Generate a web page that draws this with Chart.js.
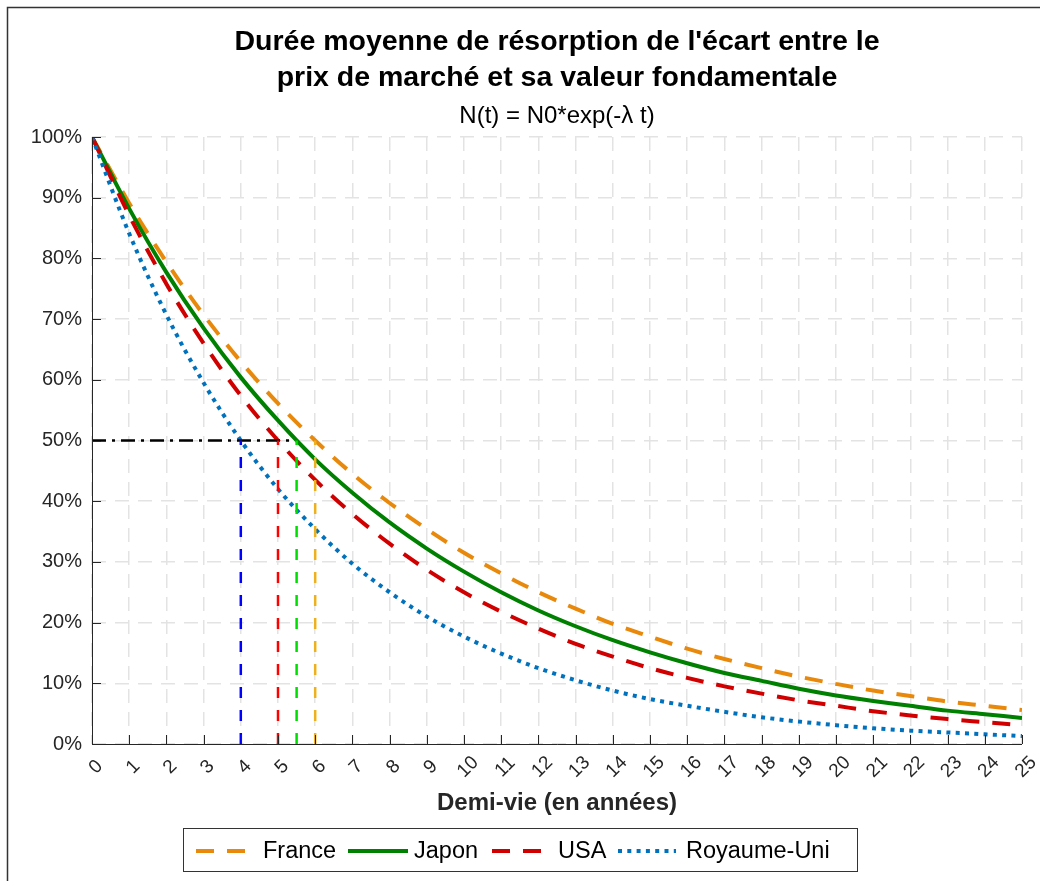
<!DOCTYPE html>
<html>
<head>
<meta charset="utf-8">
<script src="https://cdn.jsdelivr.net/npm/chart.js@4.4.1/dist/chart.umd.min.js"></script>
<style>
  html, body { margin: 0; padding: 0; background: #fff; }
  canvas { display: block; }
</style>
</head>
<body>
<canvas id="decay" width="1040" height="881"></canvas>
<script>
// years on the x axis
const years = [0,1,2,3,4,5,6,7,8,9,10,11,12,13,14,15,16,17,18,19,20,21,22,23,24,25];
// share of the gap left, in %
const france = [100,89.1,79.4,70.7,63.0,56.1,50.0,44.5,39.7,35.4,31.5,28.1,25.0,22.3,19.8,17.7,15.7,14.0,12.5,11.1,9.9,8.8,7.9,7.0,6.3,5.6];
const japon  = [100,88.2,77.7,68.5,60.4,53.3,46.9,41.4,36.5,32.2,28.4,25.0,22.0,19.4,17.1,15.1,13.3,11.7,10.4,9.1,8.0,7.1,6.3,5.5,4.9,4.3];
const usa    = [100,87.1,75.8,66.0,57.4,50.0,43.5,37.9,33.0,28.7,25.0,21.8,19.0,16.5,14.4,12.5,10.9,9.5,8.3,7.2,6.3,5.4,4.7,4.1,3.6,3.1];
const uk     = [100,84.1,70.7,59.5,50.0,42.0,35.4,29.7,25.0,21.0,17.7,14.9,12.5,10.5,8.8,7.4,6.3,5.3,4.4,3.7,3.1,2.6,2.2,1.9,1.6,1.3];
// half-life markers (years) : UK, USA, Japon, France
const halfLives = [4.0, 5.0, 5.5, 6.0];
const halfColors = ['#0000ff', '#ff0000', '#00dd00', '#edb120'];
const halfLevel = 50;

const xTicks = years;
const yTicks = [0,10,20,30,40,50,60,70,80,90,100];

const titleLines = ["Durée moyenne de résorption de l'écart entre le", "prix de marché et sa valeur fondamentale"];
const subtitle = "N(t) = N0*exp(-\u03BB t)";
const xTitle = "Demi-vie (en années)";

const FONT = '"Liberation Sans", Arial, Helvetica, sans-serif';
const AXIS = '#262626';

function pts(vals) { return years.map((x, i) => ({ x: x, y: vals[i] })); }

const series = [
  { label: 'France', data: pts(france), borderColor: '#e8890c', borderDash: [18, 13] },
  { label: 'Japon', data: pts(japon), borderColor: '#008000', borderDash: [] },
  { label: 'USA', data: pts(usa), borderColor: '#d00000', borderDash: [18, 13] },
  { label: 'Royaume-Uni', data: pts(uk), borderColor: '#0072bd', borderDash: [4, 5.3] }
];

const datasets = [];
// helper lines first so that they sit on top
halfLives.forEach((h, i) => {
  datasets.push({
    label: 'hl' + i,
    data: [{ x: h, y: 0 }, { x: h, y: halfLevel }],
    borderColor: halfColors[i], borderWidth: 2.5, borderDash: [11, 12],
    pointRadius: 0, showLine: true, fill: false
  });
});
datasets.push({
  label: 'half',
  data: [{ x: 0, y: halfLevel }, { x: halfLives[2] - 0.05, y: halfLevel }],
  borderColor: '#000000', borderWidth: 2.5, borderDash: [14, 6, 3, 6],
  pointRadius: 0, showLine: true, fill: false
});
series.slice().reverse().forEach(s => {
  datasets.push({
    label: s.label, data: s.data, borderColor: s.borderColor, borderDash: s.borderDash,
    borderWidth: 4, pointRadius: 0, showLine: true, fill: false,
    cubicInterpolationMode: 'monotone', borderCapStyle: 'butt'
  });
});

const decor = {
  id: 'decor',
  afterDraw(chart) {
    const ctx = chart.ctx;
    const a = chart.chartArea;
    const xs = chart.scales.x, ys = chart.scales.y;
    ctx.save();

    // figure frame
    ctx.strokeStyle = '#333';
    ctx.lineWidth = 1.5;
    ctx.beginPath();
    ctx.moveTo(7.5, 900); ctx.lineTo(7.5, 7.5); ctx.lineTo(1100, 7.5);
    ctx.stroke();

    // axes
    ctx.strokeStyle = AXIS;
    ctx.lineWidth = 1;
    ctx.beginPath();
    ctx.moveTo(a.left + 0.5, a.top); ctx.lineTo(a.left + 0.5, a.bottom + 0.5); ctx.lineTo(a.right, a.bottom + 0.5);
    yTicks.forEach(v => {
      const y = Math.round(ys.getPixelForValue(v)) + 0.5;
      ctx.moveTo(a.left, y); ctx.lineTo(a.left + 9, y);
    });
    xTicks.forEach(v => {
      const x = Math.round(xs.getPixelForValue(v)) + 0.5;
      ctx.moveTo(x, a.bottom); ctx.lineTo(x, a.bottom - 9);
    });
    ctx.stroke();

    // y tick labels
    ctx.fillStyle = AXIS;
    ctx.font = '20px ' + FONT;
    ctx.textAlign = 'right';
    ctx.textBaseline = 'middle';
    yTicks.forEach(v => ctx.fillText(v + '%', a.left - 10, ys.getPixelForValue(v)));

    // x tick labels, rotated
    ctx.font = '19px ' + FONT;
    ctx.textAlign = 'center';
    xTicks.forEach(v => {
      ctx.save();
      ctx.translate(xs.getPixelForValue(v) + 4, a.bottom + 23);
      ctx.rotate(-Math.PI / 4);
      ctx.fillText(String(v), 0, 0);
      ctx.restore();
    });

    const cx = (a.left + a.right) / 2;
    // x title
    ctx.font = 'bold 24px ' + FONT;
    ctx.fillText(xTitle, cx, 803);

    // titles
    ctx.fillStyle = '#000';
    ctx.font = 'bold 28.5px ' + FONT;
    ctx.fillText(titleLines[0], cx, 42);
    ctx.fillText(titleLines[1], cx, 78);
    ctx.font = '24px ' + FONT;
    ctx.fillText(subtitle, cx, 116);

    // legend
    ctx.strokeStyle = '#333';
    ctx.lineWidth = 1;
    ctx.fillStyle = '#fff';
    ctx.fillRect(183.5, 828.5, 674, 43);
    ctx.strokeRect(183.5, 828.5, 674, 43);
    const ly = 851;
    const slots = [[196, 251, 263], [348, 408, 414], [492, 547, 558], [618, 676, 686]];
    ctx.font = '23.5px ' + FONT;
    ctx.textAlign = 'left';
    series.forEach((s, i) => {
      const [x0, x1, tx] = slots[i];
      ctx.strokeStyle = s.borderColor;
      ctx.lineWidth = 4;
      ctx.setLineDash(s.borderDash);
      ctx.beginPath();
      ctx.moveTo(x0, ly); ctx.lineTo(x1, ly);
      ctx.stroke();
      ctx.setLineDash([]);
      ctx.fillStyle = '#000';
      ctx.fillText(s.label, tx, ly + 1);
    });
    ctx.restore();
  }
};

new Chart(document.getElementById('decay').getContext('2d'), {
  type: 'scatter',
  data: { datasets: datasets },
  options: {
    responsive: false,
    animation: false,
    devicePixelRatio: 1,
    layout: { padding: { left: 92, top: 137, right: 18, bottom: 137 } },
    plugins: { legend: { display: false }, title: { display: false }, tooltip: { enabled: false } },
    scales: {
      x: {
        type: 'linear', min: 0, max: 25,
        ticks: { display: false, stepSize: 1 },
        grid: { color: '#e3e3e3', lineWidth: 1.5, drawTicks: false },
        border: { display: false, dash: [14, 9] }
      },
      y: {
        type: 'linear', min: 0, max: 100,
        ticks: { display: false, stepSize: 10 },
        grid: { color: '#e3e3e3', lineWidth: 1.5, drawTicks: false },
        border: { display: false, dash: [14, 9] }
      }
    }
  },
  plugins: [decor]
});
</script>
</body>
</html>
